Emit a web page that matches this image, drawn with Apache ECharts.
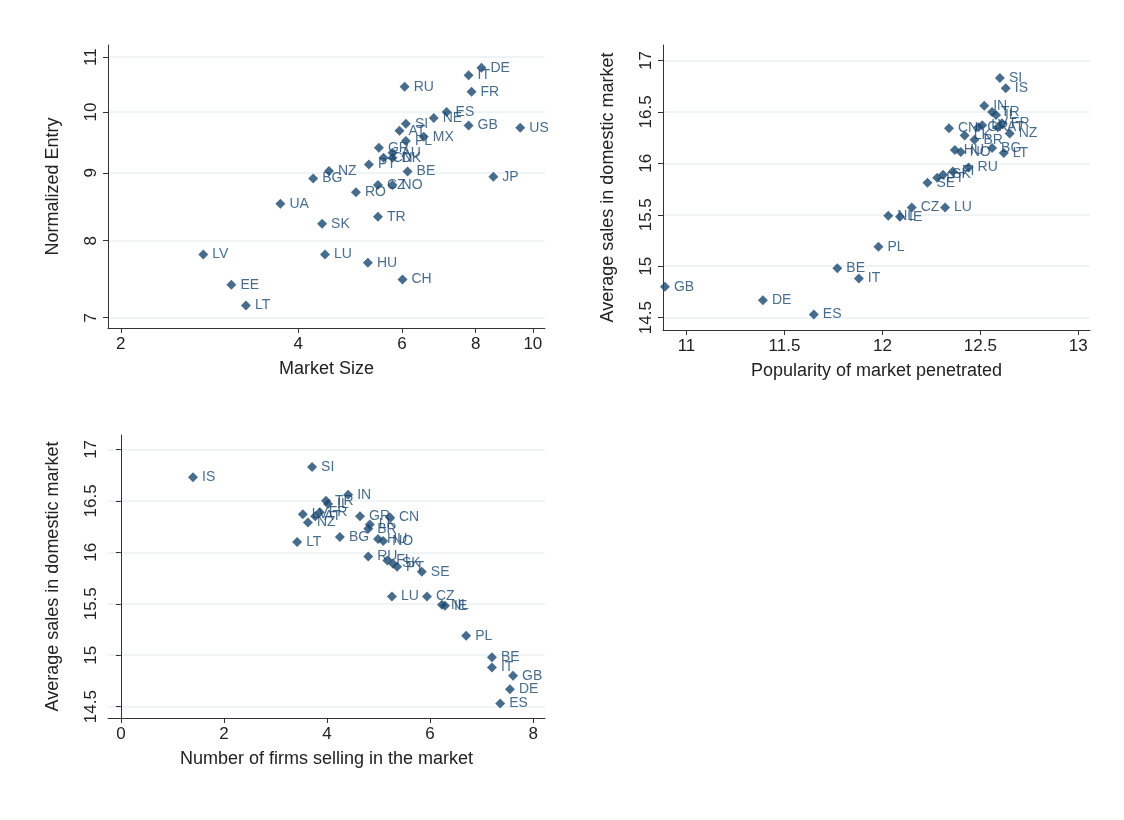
<!DOCTYPE html>
<html>
<head>
<meta charset="utf-8">
<script src="https://cdn.jsdelivr.net/npm/echarts@6/dist/echarts.min.js"></script>
<style>body{margin:0;background:#fff}#c{width:1124px;height:820px}</style>
</head>
<body>
<div id="c"></div>
<script>
// panel 1: market size vs normalized entry
var p1Names = ['DE','IT','RU','FR','ES','NE','SI','GB','US','AT','MX','PL','GR','AU','CN','DK','PT','NZ','BE','JP','BG','CZ','NO','RO','UA','TR','SK','LV','LU','HU','CH','EE','LT'];
var p1Size = [8.18,7.78,6.06,7.87,7.14,6.79,6.09,7.78,9.52,5.94,6.53,6.09,5.48,5.78,5.58,5.78,5.27,4.51,6.13,8.57,4.24,5.46,5.78,5.01,3.73,5.46,4.39,2.76,4.44,5.25,6.01,3.08,3.26];
var p1Entry = [10.80,10.66,10.45,10.36,10.0,9.90,9.80,9.77,9.73,9.68,9.58,9.51,9.40,9.32,9.24,9.24,9.13,9.03,9.02,8.94,8.91,8.81,8.81,8.70,8.53,8.34,8.24,7.81,7.81,7.70,7.48,7.41,7.15];

// panels 2 and 3 share countries and average sales
var names = ['SI','IS','IN','TR','IL','CN','GR','LV','AT','FR','NZ','LK','BR','HU','NO','BG','LT','RU','FI','SK','PT','SE','CZ','LU','NL','IE','PL','BE','IT','GB','DE','ES'];
var avgSales = [16.83,16.73,16.56,16.50,16.47,16.34,16.35,16.37,16.35,16.39,16.29,16.27,16.23,16.13,16.11,16.15,16.10,15.96,15.92,15.89,15.86,15.81,15.57,15.57,15.49,15.48,15.19,14.98,14.88,14.80,14.67,14.53];
var popularity = [12.60,12.63,12.52,12.56,12.58,12.34,12.49,12.51,12.59,12.61,12.65,12.42,12.47,12.37,12.40,12.56,12.62,12.44,12.36,12.31,12.28,12.23,12.15,12.32,12.03,12.09,11.98,11.77,11.88,10.89,11.39,11.65];
var nFirms = [3.71,1.40,4.41,3.98,4.02,5.22,4.64,3.53,3.77,3.86,3.63,4.83,4.80,4.99,5.09,4.25,3.42,4.80,5.17,5.28,5.36,5.84,5.94,5.26,6.23,6.29,6.70,7.20,7.20,7.61,7.55,7.36];

var xTicks1 = [2,4,6,8,10];
var yTicks1 = [7,8,9,10,11];
var xTicks2 = [11,11.5,12,12.5,13];
var yTicks23 = [14.5,15,15.5,16,16.5,17];
var xTicks3 = [0,2,4,6,8];

var navy = '#1a476f';
var font = 'Liberation Sans';
var gridCol = '#eaf2f3';

function axis(gi, min, max, ticks, name, isY, fmt){
    return {
        type: 'value', gridIndex: gi, min: min, max: max,
        name: name, nameLocation: 'middle', nameGap: isY ? 46 : 32,
        nameTextStyle: {fontFamily: font, fontSize: 18, color: '#222'},
        axisLine: {show: true, lineStyle: {color: '#333'}},
        axisTick: {show: true, customValues: ticks, length: 5, lineStyle: {color: '#333'}},
        axisLabel: {customValues: ticks, fontFamily: font, fontSize: 17, color: '#222', rotate: isY ? 90 : 0,
            formatter: fmt || function(v){ return String(+v.toFixed(2)); }},
        splitLine: {show: isY, lineStyle: {color: gridCol, width: 1.5}}
    };
}
var logFmt = function(v){ return String(Math.round(Math.exp(v))); };
function lg(a){ return a.map(function(v){ return Math.log(v); }); }

function pts(xs, ys, ns, tx, ty){
    return xs.map(function(x, i){ return {value: [tx ? Math.log(x) : x, ty ? Math.log(ys[i]) : ys[i]], name: ns[i]}; });
}
function ser(i, data){
    return {
        type: 'scatter', xAxisIndex: i, yAxisIndex: i, symbol: 'diamond', symbolSize: 10,
        itemStyle: {color: navy}, data: data, animation: false,
        label: {show: true, position: 'right', distance: 4, formatter: '{b}', color: navy, fontFamily: font, fontSize: 14}
    };
}

var myChart = echarts.init(document.getElementById('c'));
myChart.setOption({
    backgroundColor: '#fff',
    grid: [
        {left: 108, top: 45, width: 437, height: 283},
        {left: 663, top: 45, width: 427, height: 285},
        {left: 108, top: 435, width: 437, height: 283}
    ],
    xAxis: [
        axis(0, 0.643, 2.35, lg(xTicks1), 'Market Size', false, logFmt),
        axis(1, 10.88, 13.06, xTicks2, 'Popularity of market penetrated', false),
        axis(2, -0.25, 8.23, xTicks3, 'Number of firms selling in the market', false)
    ],
    yAxis: [
        axis(0, 1.928, 2.419, lg(yTicks1), 'Normalized Entry', true, logFmt),
        axis(1, 14.38, 17.15, yTicks23, 'Average sales in domestic market', true),
        axis(2, 14.39, 17.14, yTicks23, 'Average sales in domestic market', true)
    ],
    series: [
        ser(0, pts(p1Size, p1Entry, p1Names, true, true)),
        ser(1, pts(popularity, avgSales, names)),
        ser(2, pts(nFirms, avgSales, names))
    ]
});
</script>
</body>
</html>
